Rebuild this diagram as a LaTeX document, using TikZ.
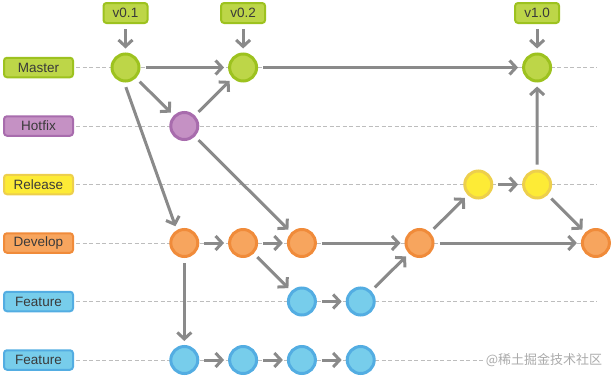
\documentclass[tikz,border=0pt]{standalone}
\usepackage{fontspec}
\setmainfont{Liberation Sans}
\newfontfamily\cjkfont{Noto Sans CJK SC}
\usetikzlibrary{arrows.meta,positioning}
\definecolor{grnfill}{HTML}{BDD648}
\definecolor{grnline}{HTML}{9DC21F}
\definecolor{purfill}{HTML}{C591C4}
\definecolor{purline}{HTML}{A86CAD}
\definecolor{yelfill}{HTML}{FDEB36}
\definecolor{yelline}{HTML}{EDCF4C}
\definecolor{orgfill}{HTML}{F7A55E}
\definecolor{orgline}{HTML}{F08B3A}
\definecolor{blufill}{HTML}{77CDEB}
\definecolor{bluline}{HTML}{53ADE2}
\definecolor{txtgray}{HTML}{3A3A3A}
\definecolor{arrgray}{HTML}{8A8A8A}
\definecolor{lanegray}{HTML}{BDBDBD}
\definecolor{wmgray}{HTML}{ABABAB}

\begin{document}
\begin{tikzpicture}[x=1pt,y=-1pt,node distance=58.5pt and 58.8pt,on grid,
  >={Straight Barb[length=6.5pt,width=14pt]},
  every node/.style={font=\fontsize{13.5}{15}\selectfont,text=txtgray},
  commit/.style={circle,draw=#1line,fill=#1fill,line width=3pt,minimum size=27pt,inner sep=0pt},
  branch/.style={draw=#1line,fill=#1fill,line width=2pt,rounded corners=3pt,minimum width=69pt,minimum height=19.5pt,inner sep=0pt},
  tag/.style={draw=grnline,fill=grnfill,line width=2pt,rounded corners=3pt,minimum width=44pt,minimum height=20pt,inner sep=0pt},
  flow/.style={->,draw=arrgray,line width=3pt,shorten <=5pt,shorten >=4pt},
  lane/.style={draw=lanegray,dash pattern=on 4pt off 2.5pt,line width=0.8pt,shorten <=2pt}]
\useasboundingbox (0,0) rectangle (614,380);
\node[branch=grn] (lmaster) at (38.5,67.5) {Master};
\node[branch=pur,below=of lmaster] (lhot) {Hotfix};
\node[branch=yel,below=of lhot] (lrel) {Release};
\node[branch=org,below=of lrel] (ldev) {Develop};
\node[branch=blu,below=of ldev] (lfeat) {Feature};
\node[branch=blu,below=of lfeat] (lfeatb) {Feature};
\coordinate (lend) at (597,0);
\foreach \b in {lmaster,lhot,lrel,ldev,lfeat,lfeatb}
  \draw[lane] (\b.east) -- (\b -| lend);

\node[commit=grn,right=87pt of lmaster] (m1) {};
\node[commit=grn,right=117.6pt of m1] (m2) {};
\node[commit=grn,right=411.6pt of m1] (m3) {};
\node[commit=pur,below right=of m1] (h1) {};
\node[commit=org,below=117pt of h1] (d1) {};
\node[commit=org,right=of d1] (d2) {};
\node[commit=org,right=of d2] (d3) {};
\node[commit=org,right=117.6pt of d3] (d4) {};
\node[commit=org,right=176.4pt of d4] (d5) {};
\node[commit=yel,above right=of d4] (r1) {};
\node[commit=yel,right=of r1] (r2) {};
\node[commit=blu,below=of d3] (f1a) {};
\node[commit=blu,right=of f1a] (f1b) {};
\node[commit=blu,below=117pt of d1] (f2a) {};
\node[commit=blu,right=of f2a] (f2b) {};
\node[commit=blu,right=of f2b] (f2c) {};
\node[commit=blu,right=of f2c] (f2d) {};

\node[tag,above=54.5pt of m1] (t01) {v0.1};
\node[tag,above=54.5pt of m2] (t02) {v0.2};
\node[tag,above=54.5pt of m3] (t10) {v1.0};

\draw[flow] (t01) -- (m1);
\draw[flow] (t02) -- (m2);
\draw[flow] (t10) -- (m3);
\draw[flow] (m1) -- (m2);
\draw[flow] (m1) -- (h1);
\draw[flow] (h1) -- (m2);
\draw[flow] (m2) -- (m3);
\draw[flow] (m1.-95) -- (d1.120);
\draw[flow] (h1) -- (d3);
\draw[flow] (d1) -- (d2);
\draw[flow] (d2) -- (d3);
\draw[flow] (d3) -- (d4);
\draw[flow] (d4) -- (d5);
\draw[flow] (d4) -- (r1);
\draw[flow] (r1) -- (r2);
\draw[flow] (r2) -- (m3);
\draw[flow] (r2) -- (d5);
\draw[flow] (d2) -- (f1a);
\draw[flow] (f1a) -- (f1b);
\draw[flow] (f1b) -- (d4);
\draw[flow] (d1) -- (f2a);
\draw[flow] (f2a) -- (f2b);
\draw[flow] (f2b) -- (f2c);
\draw[flow] (f2c) -- (f2d);

\node[font=\cjkfont\fontsize{13}{15}\selectfont,text=wmgray,fill=white,inner sep=1pt] (mark) at (544,360) {@稀土掘金技术社区};
\end{tikzpicture}
\end{document}
